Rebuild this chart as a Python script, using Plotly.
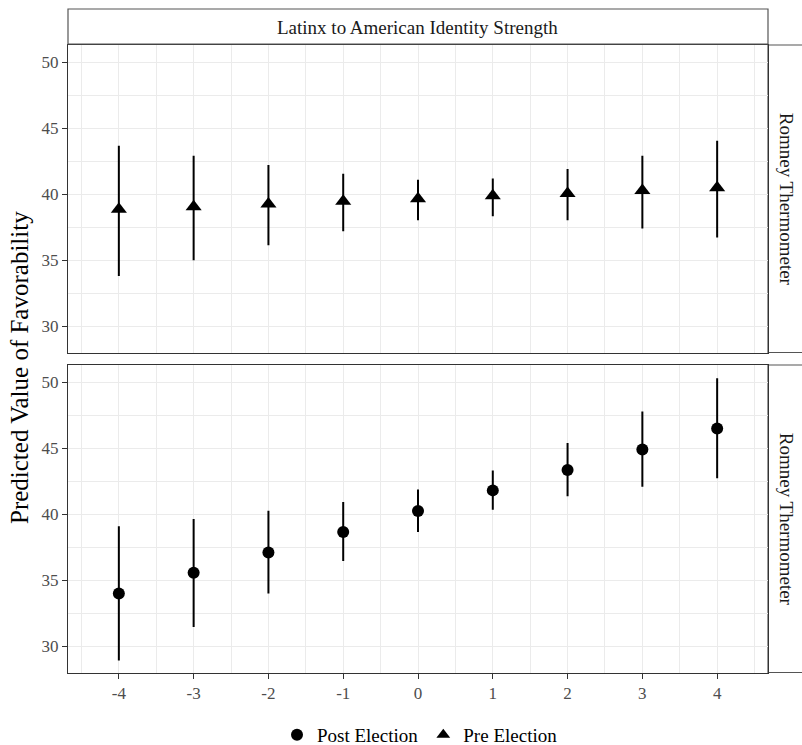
import plotly.graph_objects as go

# ---- data ----
identity = [-4, -3, -2, -1, 0, 1, 2, 3, 4]

pre_est = [38.85, 39.05, 39.25, 39.47, 39.65, 39.87, 40.05, 40.28, 40.48]
pre_hi = [43.67, 42.91, 42.20, 41.54, 41.09, 41.19, 41.90, 42.91, 44.05]
pre_lo = [33.80, 34.99, 36.13, 37.19, 38.03, 38.33, 38.03, 37.39, 36.71]

post_est = [33.98, 35.55, 37.10, 38.65, 40.23, 41.80, 43.35, 44.90, 46.48]
post_hi = [39.09, 39.64, 40.25, 40.91, 41.86, 43.30, 45.39, 47.78, 50.30]
post_lo = [28.91, 31.44, 33.98, 36.44, 38.65, 40.33, 41.35, 42.08, 42.72]

x_ticks = [-4, -3, -2, -1, 0, 1, 2, 3, 4]
x_ticktext = ["-4", "-3", "-2", "-1", "0", "1", "2", "3", "4"]
y_ticks = [30, 35, 40, 45, 50]

facet_col_label = "Latinx to American Identity Strength"
facet_row_label = "Romney Thermometer"
y_title = "Predicted Value of Favorability"

W, H = 802, 745
FONT = "Liberation Serif"
BORDER = "#333333"
GRID = "#ebebeb"

def px_x(p):
    return p / W

def px_y(p):
    return 1 - p / H

panel_x = [px_x(68), px_x(768)]
top_y = [px_y(352.5), px_y(45)]
bot_y = [px_y(672.5), px_y(365)]

fig = go.Figure()

fig.add_trace(go.Scatter(
    x=identity, y=pre_est, mode="markers", name="Pre Election",
    marker=dict(symbol="triangle-up", size=14, color="black"),
    error_y=dict(type="data", symmetric=False,
                 array=[h - e for h, e in zip(pre_hi, pre_est)],
                 arrayminus=[e - l for e, l in zip(pre_est, pre_lo)],
                 color="black", thickness=2, width=0),
    xaxis="x", yaxis="y", legendrank=2,
))

fig.add_trace(go.Scatter(
    x=identity, y=post_est, mode="markers", name="Post Election",
    marker=dict(symbol="circle", size=12, color="black"),
    error_y=dict(type="data", symmetric=False,
                 array=[h - e for h, e in zip(post_hi, post_est)],
                 arrayminus=[e - l for e, l in zip(post_est, post_lo)],
                 color="black", thickness=2, width=0),
    xaxis="x2", yaxis="y2", legendrank=1,
))

xr = [-4.68, 4.68]
yr = [28.0, 51.3]

common_x = dict(
    range=xr, tickvals=x_ticks, ticktext=x_ticktext,
    showgrid=True, gridcolor=GRID, gridwidth=1.3,
    minor=dict(dtick=0.5, tick0=0.5, showgrid=True, gridcolor=GRID, gridwidth=0.7, ticks=""),
    zeroline=False, showline=True, linecolor=BORDER, linewidth=1.3, mirror=True,
    domain=panel_x, automargin=False,
    tickfont=dict(family=FONT, size=17, color="#4d4d4d"),
)
common_y = dict(
    range=yr, tickvals=y_ticks, showgrid=True, gridcolor=GRID, gridwidth=1.3,
    minor=dict(dtick=2.5, tick0=27.5, showgrid=True, gridcolor=GRID, gridwidth=0.7, ticks=""),
    zeroline=False, showline=True, linecolor=BORDER, linewidth=1.3, mirror=True,
    ticks="outside", ticklen=5, tickcolor=BORDER, tickwidth=1.2, automargin=False,
    tickfont=dict(family=FONT, size=17, color="#4d4d4d"),
)

fig.update_layout(
    width=W, height=H,
    margin=dict(l=0, r=0, t=0, b=0, autoexpand=False),
    paper_bgcolor="white", plot_bgcolor="white",
    font=dict(family=FONT, color="black"),
    xaxis=dict(common_x, anchor="y", showticklabels=False, ticks=""),
    yaxis=dict(common_y, domain=top_y, anchor="x"),
    xaxis2=dict(common_x, anchor="y2", ticks="outside", ticklen=5,
                tickcolor=BORDER, tickwidth=1.2),
    yaxis2=dict(common_y, domain=bot_y, anchor="x2"),
    showlegend=True,
    legend=dict(orientation="h", x=px_x(277), xanchor="left", y=px_y(735), yanchor="middle",
                font=dict(family=FONT, size=19, color="black"),
                itemsizing="constant", traceorder="normal"),
)

shapes = [
    # top strip
    dict(type="rect", xref="paper", yref="paper",
         x0=px_x(68), x1=px_x(768), y0=px_y(44), y1=px_y(9),
         fillcolor="white", line=dict(color="#555555", width=1.2)),
    # right strips
    dict(type="rect", xref="paper", yref="paper",
         x0=px_x(768), x1=px_x(812), y0=top_y[0], y1=top_y[1],
         fillcolor="white", line=dict(color="#555555", width=1.2), layer="below"),
    dict(type="rect", xref="paper", yref="paper",
         x0=px_x(768), x1=px_x(812), y0=bot_y[0], y1=bot_y[1],
         fillcolor="white", line=dict(color="#555555", width=1.2), layer="below"),
]
fig.update_layout(shapes=shapes)

annotations = [
    dict(text=facet_col_label, xref="paper", yref="paper",
         x=(panel_x[0] + panel_x[1]) / 2, y=px_y(27), showarrow=False,
         font=dict(family=FONT, size=19, color="#1a1a1a"), xanchor="center", yanchor="middle"),
    dict(text=facet_row_label, xref="paper", yref="paper",
         x=px_x(786), y=(top_y[0] + top_y[1]) / 2, showarrow=False, textangle=90,
         font=dict(family=FONT, size=19, color="#1a1a1a"), xanchor="center", yanchor="middle"),
    dict(text=facet_row_label, xref="paper", yref="paper",
         x=px_x(786), y=(bot_y[0] + bot_y[1]) / 2, showarrow=False, textangle=90,
         font=dict(family=FONT, size=19, color="#1a1a1a"), xanchor="center", yanchor="middle"),
    dict(text=y_title, xref="paper", yref="paper",
         x=px_x(19), y=px_y(368), showarrow=False, textangle=-90,
         font=dict(family=FONT, size=25, color="black"), xanchor="center", yanchor="middle"),
]
fig.update_layout(annotations=annotations)

fig.write_html("out.html",
               config={"displayModeBar": False},
               post_script="document.body.style.margin='0';document.body.style.overflow='hidden';")
